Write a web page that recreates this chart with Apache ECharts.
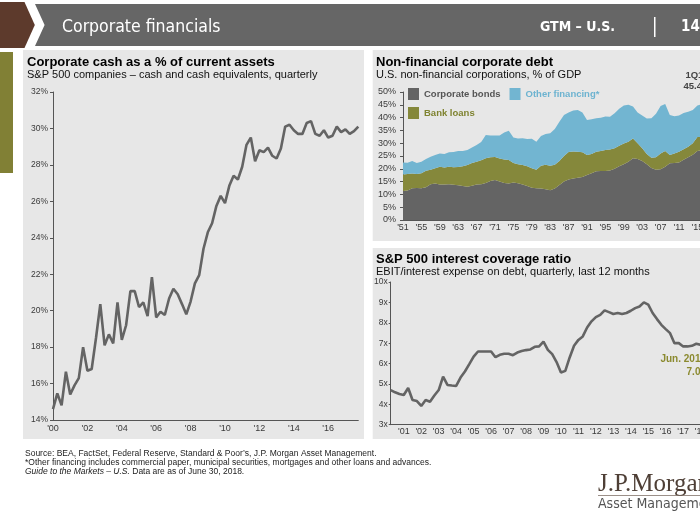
<!DOCTYPE html>
<html>
<head>
<meta charset="utf-8">
<script src="https://cdn.jsdelivr.net/npm/echarts@6/dist/echarts.min.js"></script>
<style>
html,body{margin:0;padding:0;background:#fff;}
#c{width:700px;height:525px;}
</style>
</head>
<body>
<div id="c"></div>
<script>
// ---------- DATA ----------
// Corporate cash as % of current assets, quarterly 2000Q1 - 2017Q4
const cashYears = [2000,2001,2002,2003,2004,2005,2006,2007,2008,2009,2010,2011,2012,2013,2014,2015,2016,2017];
const cashPct = [14.6, 15.46, 14.8, 16.65, 15.4, 15.9, 16.3, 18.0, 16.7, 16.8,
  18.5, 20.36, 18.1, 18.7, 18.2, 20.45, 18.4, 19.2, 21.07, 21.07,
  20.2, 20.45, 19.7, 21.84, 19.63, 19.94, 19.76, 20.67, 21.2, 20.9,
  20.36, 19.8, 20.5, 21.5, 21.95, 23.4, 24.3, 24.8, 25.75, 26.3,
  25.9, 26.85, 27.4, 27.2, 27.9, 29.1, 29.5, 28.2, 28.8, 28.7,
  28.95, 28.5, 28.35, 28.9, 30.1, 30.2, 29.9, 29.7, 29.7, 30.3,
  30.4, 29.7, 29.6, 29.9, 29.5, 29.6, 30.1, 29.8, 29.95, 29.7,
  29.85, 30.1];

// Non-financial corporate debt, % of GDP, annual 1951 - 2018
const debtYears = [];
for (let y = 1951; y <= 2018; y++) debtYears.push(String(y));
const corporateBonds = [11.3,11.5,12.4,12.5,12.4,12.8,14.0,14.3,13.9,13.9,
  14.0,13.8,13.6,13.3,13.0,13.4,13.9,14.0,14.5,15.2,
  15.6,15.0,14.5,14.3,14.6,14.4,13.9,13.3,12.6,12.4,
  12.3,12.0,11.6,12.3,13.7,15.0,15.8,16.2,16.5,16.8,
  17.6,18.3,19.0,19.1,19.1,19.3,20.0,21.0,21.8,22.8,
  24.1,23.8,23.0,21.8,20.3,19.6,19.8,20.8,22.2,22.3,
  22.5,23.5,24.5,25.5,27.0,27.3,27.5,27.6];
const bankLoans = [6.5,6.5,5.8,5.5,5.9,6.4,5.6,5.9,6.9,6.6,
  6.8,6.8,7.1,7.7,8.5,8.9,8.9,9.3,9.6,9.3,
  9.0,9.0,9.1,9.1,7.7,7.4,7.6,7.7,7.6,7.2,
  8.9,9.6,9.6,9.3,9.3,10.0,10.8,10.6,10.2,9.7,
  7.8,7.5,7.7,7.9,8.2,8.2,8.0,8.0,8.1,7.8,
  7.7,6.2,5.0,4.0,4.0,4.9,6.2,6.2,3.2,3.7,
  4.2,4.1,4.1,4.5,5.4,5.2,5.3,5.4];
const otherFinancing = [4.7,4.4,4.8,4.3,4.5,4.6,5.1,5.2,5.2,5.3,
  5.7,6.0,6.3,6.0,5.8,6.0,6.5,7.2,9.1,8.5,
  8.4,9.0,10.6,11.5,9.9,10.0,10.4,10.6,11.5,11.0,
  11.6,12.0,12.7,13.9,15.4,16.0,15.4,16.0,16.3,15.5,
  13.7,13.6,13.0,12.9,13.1,12.8,13.7,14.5,14.8,14.4,
  12.5,12.0,12.8,13.8,15.4,17.0,18.5,18.3,15.6,14.5,
  14.1,14.2,13.7,13.0,12.3,12.7,12.2,12.4];

// S&P 500 interest coverage ratio, quarterly 2000Q2 - 2018Q2
const coverage = [4.70,4.59,4.51,4.46,4.80,4.21,4.16,3.92,4.21,4.13,
  4.43,4.70,5.36,4.95,4.92,4.90,5.31,5.61,5.97,6.34,
  6.59,6.59,6.59,6.59,6.31,6.43,6.48,6.48,6.41,6.54,
  6.61,6.66,6.69,6.82,6.84,7.08,6.67,6.46,6.07,5.56,
  5.64,6.30,6.87,7.16,7.33,7.77,8.07,8.28,8.39,8.61,
  8.52,8.43,8.48,8.43,8.48,8.59,8.72,8.80,9.00,8.89,
  8.48,8.18,7.90,7.69,7.49,7.00,7.00,6.84,6.84,6.87,
  6.97,6.92,7.00];

// ---------- CATEGORIES ----------
const cashCats = [];
cashYears.forEach(y => { for (let q = 1; q <= 4; q++) cashCats.push(y + 'Q' + q); });
const covCats = [];
for (let y = 2000; y <= 2018; y++) for (let q = 1; q <= 4; q++) {
  if ((y === 2000 && q < 2) || (y === 2018 && q > 2)) continue;
  covCats.push(y + 'Q' + q);
}

const SANS = '"Liberation Sans", Arial, sans-serif';
const NARROW = '"Liberation Sans Narrow", "DejaVu Sans Condensed", sans-serif';
const GREY = '#646464';
const OLIVE = '#85883b';
const BLUE = '#72b5d1';
const PANEL = '#e7e7e7';
const AX = '#555';
const LAB = '#3a3a3a';

function yy(v) { return "'" + String(v).slice(2, 4); }

const chart = echarts.init(document.getElementById('c'));
chart.setOption({
  animation: false,
  backgroundColor: '#fff',
  graphic: { elements: [
    // header
    { type: 'polygon', z: -10, shape: { points: [[0,2],[24.5,2],[34.8,25],[24.5,48],[0,48]] }, style: { fill: '#5d3a2c' } },
    { type: 'polygon', z: -10, shape: { points: [[35,4],[700,4],[700,46],[35,46],[44.6,25]] }, style: { fill: '#666666' } },
    { type: 'text', z: 5, style: { x: 62, y: 27, text: 'Corporate financials', fill: '#fff', font: '17.5px ' + NARROW, verticalAlign: 'middle' } },
    { type: 'text', z: 5, style: { x: 540, y: 27, text: 'GTM – U.S.', fill: '#fff', font: 'bold 14px ' + NARROW, verticalAlign: 'middle' } },
    { type: 'rect', z: 5, shape: { x: 654, y: 17, width: 1.5, height: 20 }, style: { fill: '#fff' } },
    { type: 'text', z: 5, style: { x: 681, y: 27, text: '14', fill: '#fff', font: 'bold 15px ' + NARROW, verticalAlign: 'middle' } },
    // olive side bar
    { type: 'rect', z: -10, shape: { x: 0, y: 52, width: 13, height: 121 }, style: { fill: '#818035' } },
    // panels
    { type: 'rect', z: -10, shape: { x: 23, y: 50, width: 341, height: 389 }, style: { fill: PANEL } },
    { type: 'rect', z: -10, shape: { x: 372.7, y: 50, width: 330, height: 191 }, style: { fill: PANEL } },
    { type: 'rect', z: -10, shape: { x: 372.7, y: 248, width: 330, height: 191 }, style: { fill: PANEL } },
    // titles
    { type: 'text', z: 5, style: { x: 27, y: 62, text: 'Corporate cash as a % of current assets', fill: '#000', font: 'bold 13px ' + SANS, verticalAlign: 'middle' } },
    { type: 'text', z: 5, style: { x: 27, y: 75, text: 'S&P 500 companies – cash and cash equivalents, quarterly', fill: '#111', font: '11px ' + SANS, verticalAlign: 'middle' } },
    { type: 'text', z: 5, style: { x: 376, y: 62, text: 'Non-financial corporate debt', fill: '#000', font: 'bold 13px ' + SANS, verticalAlign: 'middle' } },
    { type: 'text', z: 5, style: { x: 376, y: 75, text: 'U.S. non-financial corporations, % of GDP', fill: '#111', font: '11px ' + SANS, verticalAlign: 'middle' } },
    { type: 'text', z: 5, style: { x: 376, y: 259, text: 'S&P 500 interest coverage ratio', fill: '#000', font: 'bold 13px ' + SANS, verticalAlign: 'middle' } },
    { type: 'text', z: 5, style: { x: 376, y: 271.5, text: 'EBIT/interest expense on debt, quarterly, last 12 months', fill: '#111', font: '11px ' + SANS, verticalAlign: 'middle' } },
    // annotations
    { type: 'text', z: 5, style: { x: 697, y: 75.5, text: '1Q18', fill: '#444', font: 'bold 9.5px ' + SANS, align: 'center', verticalAlign: 'middle' } },
    { type: 'text', z: 5, style: { x: 697, y: 86.5, text: '45.4%', fill: '#444', font: 'bold 9.5px ' + SANS, align: 'center', verticalAlign: 'middle' } },
    { type: 'text', z: 5, style: { x: 706, y: 359.3, text: 'Jun. 2018', fill: '#8b8a2f', font: 'bold 10px ' + SANS, align: 'right', verticalAlign: 'middle' } },
    { type: 'text', z: 5, style: { x: 706, y: 372.3, text: '7.0x', fill: '#8b8a2f', font: 'bold 10px ' + SANS, align: 'right', verticalAlign: 'middle' } },
    // footnotes
    { type: 'text', z: 5, style: { x: 25, y: 454, text: 'Source: BEA, FactSet, Federal Reserve, Standard & Poor\u2019s, J.P. Morgan Asset Management.', fill: '#222', font: '8.5px ' + SANS, verticalAlign: 'middle' } },
    { type: 'text', z: 5, style: { x: 25, y: 463, text: '*Other financing includes commercial paper, municipal securities, mortgages and other loans and advances.', fill: '#222', font: '8.5px ' + SANS, verticalAlign: 'middle' } },
    { type: 'text', z: 5, style: { x: 25, y: 472, text: '{i|Guide to the Markets – U.S.} Data are as of June 30, 2018.', fill: '#222', font: '8.5px ' + SANS, verticalAlign: 'middle',
      rich: { i: { fontStyle: 'italic', fontSize: 8.5, fontFamily: SANS, fill: '#222' } } } },
    // logo
    { type: 'text', z: 5, style: { x: 598, y: 484, text: 'J.P.Morgan', fill: '#4e3f36', font: '25px "Liberation Serif", "DejaVu Serif", serif', verticalAlign: 'middle' } },
    { type: 'rect', z: 5, shape: { x: 598, y: 495, width: 110, height: 0.8 }, style: { fill: '#7a6a60' } },
    { type: 'text', z: 5, style: { x: 598, y: 504, text: 'Asset Management', fill: '#555', font: '14px ' + NARROW, verticalAlign: 'middle' } }
  ]},
  legend: [
    { left: 408, top: 88, padding: 0, itemWidth: 11, itemHeight: 12, itemGap: 9, icon: 'rect',
      textStyle: { fontSize: 9.5, fontWeight: 'bold', fontFamily: SANS },
      data: [ { name: 'Corporate bonds', textStyle: { color: '#555' } },
              { name: 'Other financing*', textStyle: { color: '#6db3d0' } } ] },
    { left: 408, top: 107, padding: 0, itemWidth: 11, itemHeight: 12, icon: 'rect',
      textStyle: { fontSize: 9.5, fontWeight: 'bold', fontFamily: SANS },
      data: [ { name: 'Bank loans', textStyle: { color: '#7f8330' } } ] }
  ],
  grid: [
    { left: 53, top: 92, width: 305.3, height: 328, outerBoundsMode: 'none', containLabel: false },
    { left: 403, top: 92, width: 308.2, height: 128, outerBoundsMode: 'none', containLabel: false },
    { left: 390.7, top: 282, width: 314.3, height: 142.7, outerBoundsMode: 'none', containLabel: false }
  ],
  xAxis: [
    { type: 'category', gridIndex: 0, data: cashCats, boundaryGap: false,
      axisLine: { lineStyle: { color: AX, width: 1 } }, axisTick: { show: false },
      axisLabel: { interval: 7, formatter: v => yy(v), fontSize: 9, color: LAB, fontFamily: SANS, margin: 4 } },
    { type: 'category', gridIndex: 1, data: debtYears, boundaryGap: false,
      axisLine: { lineStyle: { color: AX, width: 1 } }, axisTick: { show: false },
      axisLabel: { interval: 3, formatter: v => yy(v), fontSize: 9, color: LAB, fontFamily: SANS, margin: 3 } },
    { type: 'category', gridIndex: 2, data: covCats, boundaryGap: false,
      axisLine: { lineStyle: { color: AX, width: 1 } }, axisTick: { show: false },
      axisLabel: { interval: (i) => (i - 3) % 4 === 0, formatter: v => yy(v), fontSize: 9, color: LAB, fontFamily: SANS, margin: 2 } }
  ],
  yAxis: [
    { type: 'value', gridIndex: 0, min: 14, max: 32, interval: 2,
      axisLine: { show: true, lineStyle: { color: AX, width: 1 } },
      axisTick: { show: true, length: 3, lineStyle: { color: AX } }, splitLine: { show: false },
      axisLabel: { formatter: '{value}%', fontSize: 8.5, color: LAB, fontFamily: SANS, margin: 5 } },
    { type: 'value', gridIndex: 1, min: 0, max: 50, interval: 5,
      axisLine: { show: true, lineStyle: { color: AX, width: 1 } },
      axisTick: { show: true, length: 3, lineStyle: { color: AX } }, splitLine: { show: false },
      axisLabel: { formatter: '{value}%', fontSize: 9, color: LAB, fontFamily: SANS, margin: 7 } },
    { type: 'value', gridIndex: 2, min: 3, max: 10, interval: 1,
      axisLine: { show: true, lineStyle: { color: AX, width: 1 } },
      axisTick: { show: true, length: 2, lineStyle: { color: AX } }, splitLine: { show: false },
      axisLabel: { formatter: '{value}x', fontSize: 8.5, color: LAB, fontFamily: SANS, margin: 3 } }
  ],
  series: [
    { name: 'Cash', type: 'line', xAxisIndex: 0, yAxisIndex: 0, data: cashPct, symbol: 'none',
      lineStyle: { color: GREY, width: 2.6 }, itemStyle: { color: GREY } },
    { name: 'Corporate bonds', type: 'line', stack: 'debt', xAxisIndex: 1, yAxisIndex: 1, data: corporateBonds,
      symbol: 'none', lineStyle: { width: 0 }, areaStyle: { color: GREY, opacity: 1 }, itemStyle: { color: GREY } },
    { name: 'Bank loans', type: 'line', stack: 'debt', xAxisIndex: 1, yAxisIndex: 1, data: bankLoans,
      symbol: 'none', lineStyle: { width: 0 }, areaStyle: { color: OLIVE, opacity: 1 }, itemStyle: { color: OLIVE } },
    { name: 'Other financing*', type: 'line', stack: 'debt', xAxisIndex: 1, yAxisIndex: 1, data: otherFinancing,
      symbol: 'none', lineStyle: { width: 0 }, areaStyle: { color: BLUE, opacity: 1 }, itemStyle: { color: BLUE } },
    { name: 'Coverage', type: 'line', xAxisIndex: 2, yAxisIndex: 2, data: coverage, symbol: 'none',
      lineStyle: { color: GREY, width: 2.6 }, itemStyle: { color: GREY } }
  ]
});
</script>
</body>
</html>
